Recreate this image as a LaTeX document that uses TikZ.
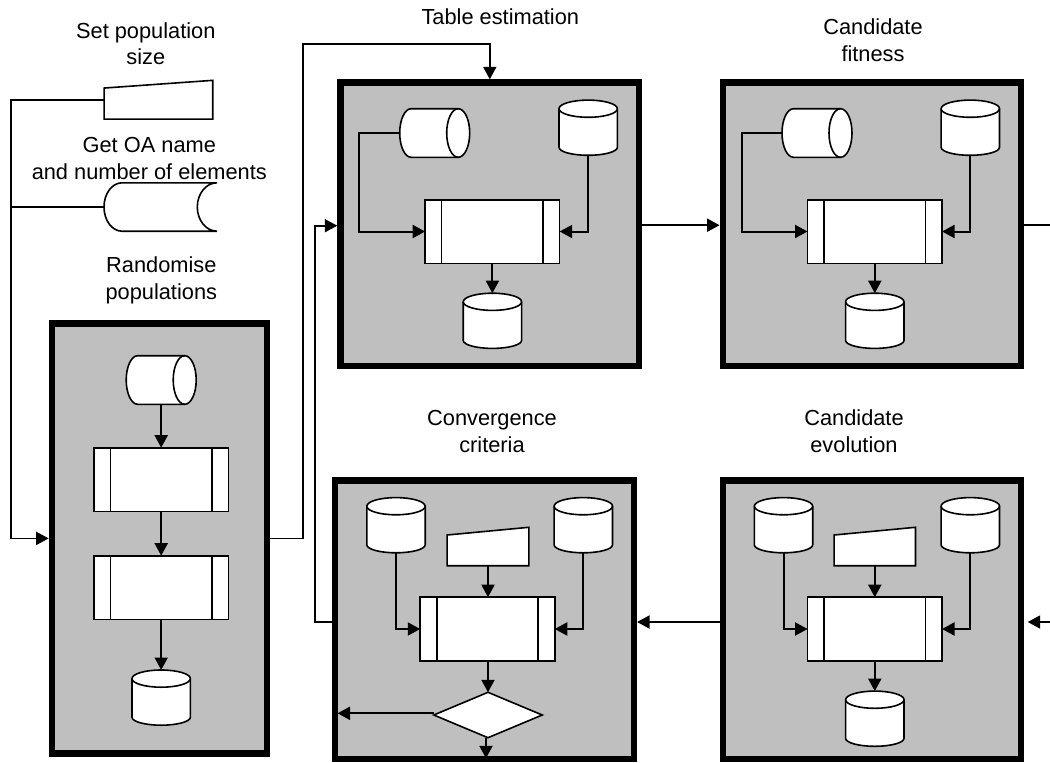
\documentclass[tikz,border=0pt]{standalone}
\usepackage{fontspec}
\setmainfont{Liberation Sans}
\usetikzlibrary{arrows.meta,shapes.geometric}
\definecolor{panelgrey}{HTML}{BFBFBF}
\tikzset{
  x=1pt,y=-1pt,
  lbl/.style={align=center,anchor=base,inner sep=0pt,font=\fontsize{21.8}{26.5}\selectfont},
  panel/.style={draw=black,fill=panelgrey,line width=6.5pt,inner sep=0pt},
  outline/.style={draw=black,fill=white,line width=1.6pt,line join=miter},
  hold/.style={inner sep=0pt,outer sep=0pt},
  proc/.style={outline,inner sep=0pt,outer sep=0pt,minimum width=134.5pt,minimum height=63.6pt,
    path picture={\draw[line width=1.6pt]
      ([xshift=16.5pt]path picture bounding box.north west) -- ([xshift=16.5pt]path picture bounding box.south west)
      ([xshift=-16.5pt]path picture bounding box.north east) -- ([xshift=-16.5pt]path picture bounding box.south east);}},
  flow/.style={draw=black,line width=2pt,-{Triangle[length=12.5pt,width=13pt]}},
  wire/.style={draw=black,line width=1.8pt},
  wirearrow/.style={wire,-{Triangle[length=12.5pt,width=13pt]}},
}
% vertical database cylinder
\newcommand{\dbcyl}[2]{%
  \node[hold,minimum width=58.4pt,minimum height=55.2pt] (#1) at (#2) {};
  \draw[outline] ([yshift=-8.6pt]#1.north west) -- ([yshift=8pt]#1.south west)
    arc[start angle=180,end angle=360,x radius=29.2pt,y radius=8pt]
    -- ([yshift=-8.6pt]#1.north east)
    arc[start angle=0,end angle=180,x radius=29.2pt,y radius=8.6pt] -- cycle;
  \draw[outline,fill=none] ([yshift=-8.6pt]#1.north west)
    arc[start angle=180,end angle=360,x radius=29.2pt,y radius=8.6pt];}
% horizontal closed tape
\newcommand{\tapecyl}[2]{%
  \node[hold,minimum width=70pt,minimum height=48.6pt] (#1) at (#2) {};
  \draw[outline] ([xshift=-11.5pt]#1.north east) -- ([xshift=11.5pt]#1.north west)
    arc[start angle=90,end angle=270,x radius=11.5pt,y radius=24.3pt]
    -- ([xshift=-11.5pt]#1.south east)
    arc[start angle=270,end angle=450,x radius=11.5pt,y radius=24.3pt] -- cycle;
  \draw[outline,fill=none] ([xshift=-11.5pt]#1.north east)
    arc[start angle=90,end angle=270,x radius=11.5pt,y radius=24.3pt];}
% sloped-top manual input: name, centre, width, height
\newcommand{\slopein}[4]{%
  \node[hold,minimum width=#3pt,minimum height=#4pt] (#1) at (#2) {};
  \draw[outline] ([yshift=-7.7pt]#1.north west) -- (#1.north east) -- (#1.south east) -- (#1.south west) -- cycle;}

\begin{document}
\begin{tikzpicture}
\useasboundingbox (0,0) rectangle (1050,763);

% panels
\node[panel,minimum width=215.1pt,minimum height=430.2pt] (pop) at (159.5,538.4) {};
\node[panel,minimum width=298.5pt,minimum height=283.2pt] (table) at (489.8,224.2) {};
\node[panel,minimum width=298.3pt,minimum height=283.2pt] (fit) at (872,224.2) {};
\node[panel,minimum width=298.8pt,minimum height=278.5pt] (conv) at (484.4,619.8) {};
\node[panel,minimum width=298.1pt,minimum height=278.5pt] (evo) at (872,619.8) {};

% labels
\node[lbl] (lsize) at (145.8,64.5) {Set population\\size};
\node[lbl] (loa) at (149.3,179) {Get OA name\\and number of elements};
\node[lbl] (lrand) at (161.3,299.3) {Randomise\\populations};
\node[lbl] (ltable) at (500.3,24.2) {Table estimation};
\node[lbl] (lfit) at (873,61) {Candidate\\fitness};
\node[lbl] (lconv) at (492,452) {Convergence\\criteria};
\node[lbl] (levo) at (854,452) {Candidate\\evolution};

% free-standing inputs
\slopein{psize}{158.4,99.7}{108.7}{38.7}
\node[hold,minimum width=113pt,minimum height=48.4pt] (oaname) at (160.5,207) {};
\draw[outline] (oaname.north east) -- ([xshift=18pt]oaname.north west)
  arc[start angle=90,end angle=270,x radius=18pt,y radius=24.2pt]
  -- (oaname.south east)
  arc[start angle=270,end angle=90,x radius=19.7pt,y radius=24.2pt];

% randomise panel
\tapecyl{ptape}{161.2,380}
\node[proc] (pa) at (161.2,479.5) {};
\node[proc] (pb) at (161.2,587.5) {};
\dbcyl{pdb}{161.2,697.6}
\draw[flow] (ptape.south) -- (pa.north);
\draw[flow] (pa.south) -- (pb.north);
\draw[flow] (pb.south) -- (pdb.north);

% table panel
\tapecyl{ttape}{434.7,133}
\dbcyl{tdb}{588.2,127.7}
\node[proc] (tp) at (492.4,231.5) {};
\dbcyl{tout}{492.4,320.8}
\coordinate (tvia) at (359,133);
\draw[flow] (ttape.west) -- (tvia) |- (tp.west);
\draw[flow] (tdb.south) |- (tp.east);
\draw[flow] (tp.south) -- (tout.north);

% fitness panel
\tapecyl{ftape}{817,133}
\dbcyl{fdb}{970.3,127.7}
\node[proc] (fp) at (874.8,231.5) {};
\dbcyl{fout}{874.8,320.8}
\coordinate (fvia) at (741.7,133);
\draw[flow] (ftape.west) -- (fvia) |- (fp.west);
\draw[flow] (fdb.south) |- (fp.east);
\draw[flow] (fp.south) -- (fout.north);

% convergence panel
\dbcyl{cl}{396,525.2}
\dbcyl{cr}{583.3,525.2}
\slopein{cin}{488,546.5}{81.7}{38.4}
\node[proc] (cp) at (487.5,629) {};
\node[outline,diamond,aspect=2.39,inner sep=0pt,outer sep=0pt,minimum width=108.4pt,minimum height=45.4pt] (cd) at (488,715) {};
\coordinate (cexit) at (337.5,713.3);
\coordinate (cdown) at (486,758.3);
\draw[flow] (cl.south) |- (cp.west);
\draw[flow] (cr.south) |- (cp.east);
\draw[flow] (cin.south) -- (cin.south |- cp.north);
\draw[flow] (cin.south |- cp.south) -- (cd.north);
\draw[flow] ([yshift=1.7pt]cd.west) -- (cexit);
\draw[flow] ([xshift=-2pt]cd.south) -- (cdown);

% evolution panel
\dbcyl{el}{783.5,525.2}
\dbcyl{er}{970.3,525.2}
\slopein{ein}{874.8,546.5}{81.4}{38.4}
\node[proc] (ep) at (874.8,629) {};
\dbcyl{eout}{874.8,718.7}
\draw[flow] (el.south) |- (ep.west);
\draw[flow] (er.south) |- (ep.east);
\draw[flow] (ein.south) -- (ep.north);
\draw[flow] (ep.south) -- (eout.north);

% connectors between panels
\coordinate (topleft) at (303,44);
\coordinate (topright) at (table.north |- topleft);
\coordinate (popout) at (303,538.4);
\draw[wirearrow] (pop.east) -- (popout) -- (topleft) -- (topright) -- (table.north);
\coordinate (back) at (314.7,622);
\coordinate (backup) at (314.7,225.7);
\draw[wirearrow] ([yshift=-2.2pt]conv.west) -- (back) -- (backup) -- ([yshift=-1.5pt]table.west);
\draw[wirearrow] ([yshift=-1pt]table.east) -- ([yshift=-1pt]fit.west);
\coordinate (fitout) at (1050,225.2);
\draw[wire] ([yshift=-1pt]fit.east) -- (fitout);
\coordinate (evoin) at (1050,622);
\coordinate (evotip) at (1027.7,622);
\draw[wirearrow] (evoin) -- (evotip);
\draw[wirearrow] ([yshift=-2.2pt]evo.west) -- ([yshift=-2.2pt]conv.east);
\coordinate (feedleft) at (11,99.7);
\coordinate (feedbot) at (11,538.4);
\draw[wirearrow] (psize.west) -- (feedleft) -- (feedbot) -- (pop.west);
\draw[wire] (oaname.west) -- (oaname.west -| feedleft);
\end{tikzpicture}
\end{document}
